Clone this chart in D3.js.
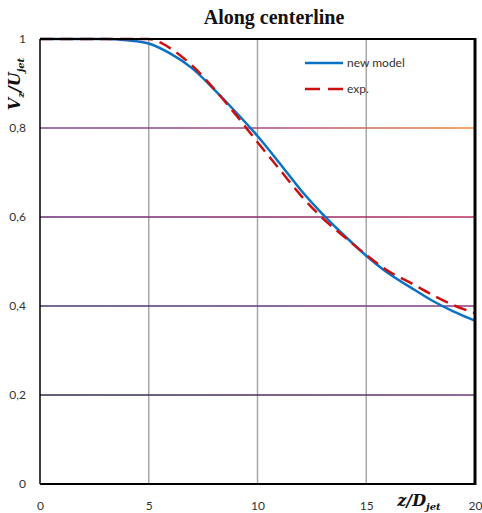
<!DOCTYPE html>
<html>
<head>
<meta charset="utf-8">
<script src="https://cdn.jsdelivr.net/npm/d3@7"></script>
<style>
  body { margin: 0; background: #fff; }
  svg { display: block; }
</style>
</head>
<body>
<div id="wrapper"></div>
<script>
// DATA
const xTicks = [0, 5, 10, 15, 20];
const yTicks = [0, 0.2, 0.4, 0.6, 0.8, 1];

const modelZ = [0, 1, 2, 3, 4, 5, 6, 7, 8, 9, 10, 11, 12, 13, 14, 15, 16, 17, 18, 19, 20];
const modelV = [1, 1, 1, 1, 0.997, 0.99, 0.967, 0.934, 0.887, 0.836, 0.782, 0.722, 0.66, 0.606, 0.558, 0.513, 0.474, 0.443, 0.413, 0.388, 0.367];

const expZ = [0, 1, 2, 3, 4, 5, 5.5, 6, 7, 8, 9, 10, 11, 12, 13, 14, 15, 16, 17, 18, 19, 20];
const expV = [1, 1, 1, 1, 1, 1, 0.993, 0.979, 0.94, 0.888, 0.83, 0.768, 0.708, 0.648, 0.597, 0.555, 0.515, 0.479, 0.453, 0.426, 0.402, 0.384];

// gridline colours (left -> right), the chart uses a gradient on each
const gridColors = {
  0.2: [`#2c2c4c`, `#4a3060`, `#6a3a7a`],
  0.4: [`#3f3a74`, `#5e3a80`, `#8a3a8a`],
  0.6: [`#6a2d78`, `#8a2a6a`, `#c0305a`],
  0.8: [`#7a4a90`, `#a84a80`, `#f08a3a`]
};

// LAYOUT
const W = 482, H = 513;
const margin = { top: 39, right: 7, bottom: 29, left: 40 };
const width = W - margin.left - margin.right;
const height = H - margin.top - margin.bottom;

const root = d3.select(`#wrapper`)
  .append(`svg`)
  .attr(`width`, W)
  .attr(`height`, H);

const defs = root.append(`defs`);

const svg = root.append(`g`)
  .attr(`transform`, `translate(${margin.left}, ${margin.top})`);

// SCALES
const xScale = d3.scaleLinear().domain([0, 20]).range([0, width]);
const yScale = d3.scaleLinear().domain([0, 1]).range([height, 0]);

// GRID
svg.append(`g`)
  .selectAll(`line`)
  .data(xTicks.slice(1, -1))
  .join(`line`)
  .attr(`x1`, d => xScale(d))
  .attr(`x2`, d => xScale(d))
  .attr(`y1`, 0)
  .attr(`y2`, height)
  .attr(`stroke`, `#a8a8a8`)
  .attr(`stroke-width`, 1.5);

const hGrid = yTicks.slice(1, -1);
hGrid.forEach((t, i) => {
  const g = defs.append(`linearGradient`)
    .attr(`id`, `grad${i}`)
    .attr(`gradientUnits`, `userSpaceOnUse`)
    .attr(`x1`, 0).attr(`x2`, width).attr(`y1`, 0).attr(`y2`, 0);
  gridColors[t].forEach((c, k, arr) => {
    g.append(`stop`).attr(`offset`, k / (arr.length - 1)).attr(`stop-color`, c);
  });
});

svg.append(`g`)
  .selectAll(`line`)
  .data(hGrid)
  .join(`line`)
  .attr(`x1`, 0)
  .attr(`x2`, width)
  .attr(`y1`, d => yScale(d))
  .attr(`y2`, d => yScale(d))
  .attr(`stroke`, (d, i) => `url(#grad${i})`)
  .attr(`stroke-width`, 1.5);

// CURVES
const line = d3.line()
  .x(d => xScale(d[0]))
  .y(d => yScale(d[1]))
  .curve(d3.curveMonotoneX);

svg.append(`path`)
  .datum(modelZ.map((z, i) => [z, modelV[i]]))
  .attr(`d`, line)
  .attr(`fill`, `none`)
  .attr(`stroke`, `#0a72c4`)
  .attr(`stroke-width`, 2.5);

svg.append(`path`)
  .datum(expZ.map((z, i) => [z, expV[i]]))
  .attr(`d`, line)
  .attr(`fill`, `none`)
  .attr(`stroke`, `#cc1010`)
  .attr(`stroke-width`, 2.5)
  .attr(`stroke-dasharray`, `13,7`);

// FRAME
svg.append(`line`).attr(`x1`, 0).attr(`x2`, width).attr(`y1`, 0).attr(`y2`, 0)
  .attr(`stroke`, `#000`).attr(`stroke-width`, 2);
svg.append(`line`).attr(`x1`, width).attr(`x2`, width).attr(`y1`, -1).attr(`y2`, height + 1)
  .attr(`stroke`, `#000`).attr(`stroke-width`, 3);
svg.append(`line`).attr(`x1`, 0).attr(`x2`, width).attr(`y1`, height).attr(`y2`, height)
  .attr(`stroke`, `#000`).attr(`stroke-width`, 2);
svg.append(`line`).attr(`x1`, 0).attr(`x2`, 0).attr(`y1`, 0).attr(`y2`, height)
  .attr(`stroke`, `#000`).attr(`stroke-width`, 1.5);

// AXES (labels only)
const fmt = d => d3.format(`.1~f`)(d).replace(`.`, `,`);

const yAxis = svg.append(`g`)
  .call(d3.axisLeft(yScale).tickValues(yTicks).tickSize(0).tickPadding(14).tickFormat(fmt));
yAxis.select(`.domain`).remove();
yAxis.selectAll(`.tick text`)
  .attr(`font-family`, `Lato, 'Open Sans', sans-serif`)
  .attr(`font-size`, 12)
  .attr(`fill`, `#333`);

const xAxis = svg.append(`g`)
  .attr(`transform`, `translate(0, ${height})`)
  .call(d3.axisBottom(xScale).tickValues(xTicks).tickSize(0).tickPadding(17).tickFormat(d3.format(`d`)));
xAxis.select(`.domain`).remove();
xAxis.selectAll(`.tick text`)
  .attr(`font-family`, `Lato, 'Open Sans', sans-serif`)
  .attr(`font-size`, 12)
  .attr(`fill`, `#333`);

// TITLE
root.append(`text`)
  .attr(`x`, 274)
  .attr(`y`, 24)
  .attr(`text-anchor`, `middle`)
  .attr(`font-family`, `'Liberation Serif', serif`)
  .attr(`font-weight`, `bold`)
  .attr(`font-size`, 20)
  .attr(`fill`, `#111`)
  .text(`Along centerline`);

// Y LABEL
const yLab = root.append(`text`)
  .attr(`transform`, `translate(20, 84) rotate(-90)`)
  .attr(`text-anchor`, `middle`)
  .attr(`font-family`, `'DejaVu Serif', serif`)
  .attr(`font-weight`, `bold`)
  .attr(`font-style`, `italic`)
  .attr(`font-size`, 16)
  .attr(`fill`, `#111`);
yLab.append(`tspan`).text(`V`);
yLab.append(`tspan`).attr(`dy`, 4).attr(`font-size`, 10).text(`z`);
yLab.append(`tspan`).attr(`dy`, -4).text(`/U`);
yLab.append(`tspan`).attr(`dy`, 4).attr(`font-size`, 10).text(`jet`);

// X LABEL
const xLab = root.append(`text`)
  .attr(`x`, 419)
  .attr(`y`, 506)
  .attr(`text-anchor`, `middle`)
  .attr(`font-family`, `'DejaVu Serif', serif`)
  .attr(`font-weight`, `bold`)
  .attr(`font-style`, `italic`)
  .attr(`font-size`, 16)
  .attr(`fill`, `#111`);
xLab.append(`tspan`).text(`z/D`);
xLab.append(`tspan`).attr(`dy`, 4).attr(`font-size`, 10).text(`jet`);

// LEGEND
const legend = root.append(`g`).attr(`transform`, `translate(305, 63)`);
const legendItems = [
  { name: `new model`, color: `#0a72c4`, dash: null },
  { name: `exp.`, color: `#cc1010`, dash: `15,8` }
];
legendItems.forEach((it, i) => {
  const row = legend.append(`g`).attr(`transform`, `translate(0, ${i * 26})`);
  row.append(`line`)
    .attr(`x1`, 0).attr(`x2`, 38).attr(`y1`, 0).attr(`y2`, 0)
    .attr(`stroke`, it.color)
    .attr(`stroke-width`, 2.5)
    .attr(`stroke-dasharray`, it.dash);
  row.append(`text`)
    .attr(`x`, 42)
    .attr(`y`, 4)
    .attr(`font-family`, `Lato, 'Open Sans', sans-serif`)
    .attr(`font-size`, 12)
    .attr(`fill`, `#333`)
    .text(it.name);
});
</script>
</body>
</html>
